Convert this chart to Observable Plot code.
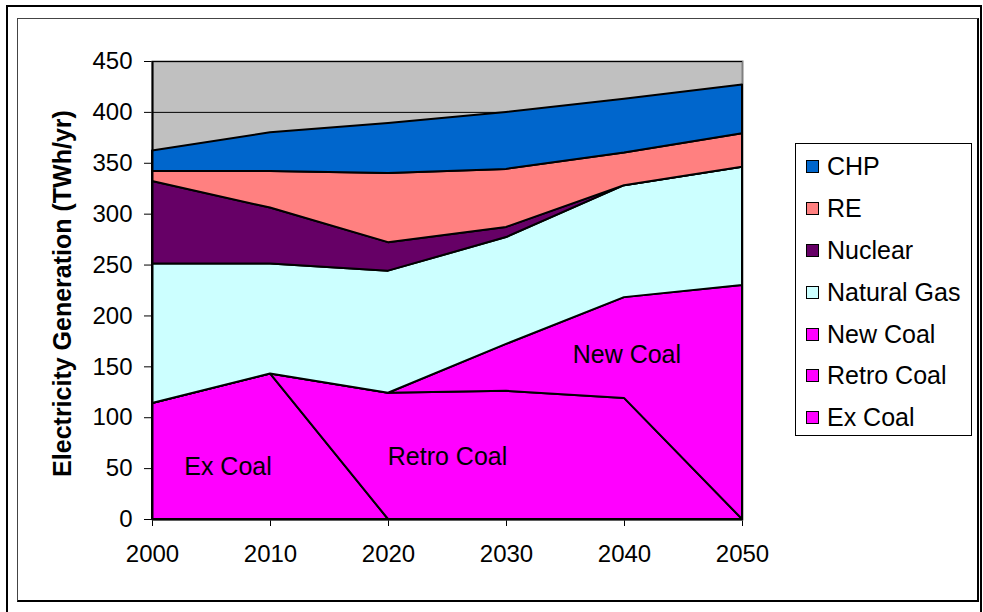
<!DOCTYPE html>
<html>
<head>
<meta charset="utf-8">
<script src="https://cdn.jsdelivr.net/npm/d3@7"></script>
<script src="https://cdn.jsdelivr.net/npm/@observablehq/plot@0.6"></script>
<style>
  html, body { margin: 0; padding: 0; background: #fff; }
  #wrap { position: relative; width: 983px; height: 612px; overflow: hidden; font-family: "Liberation Sans", Arial, sans-serif; }
  #outer { position: absolute; left: 6px; top: 5px; width: 976px; height: 620px; border: 2px solid #000; box-sizing: border-box; }
  #inner { position: absolute; left: 17px; top: 18px; width: 962px; height: 584px; border-left: 1px solid #444; border-top: 1px solid #444; border-right: 2px solid #000; border-bottom: 2px solid #000; box-sizing: border-box; }
  #chart { position: absolute; left: 0; top: 0; }
  #legend { position: absolute; left: 795px; top: 143px; width: 177px; height: 293px; border: 1px solid #000; box-sizing: border-box; background: #fff; }
  .item { position: absolute; left: 10px; height: 30px; display: flex; align-items: center; font-size: 25px; color: #000; white-space: nowrap; }
  .sw { width: 11px; height: 11px; border: 1.5px solid #000; margin-right: 8px; }
</style>
</head>
<body>
<div id="wrap">
  <div id="outer"></div>
  <div id="inner"></div>
  <div id="chart"></div>
  <div id="legend"></div>
</div>
<script>
// ---- data ----
const years = [2000, 2010, 2020, 2030, 2040, 2050];
const seriesNames = ["Ex Coal", "Retro Coal", "New Coal", "Natural Gas", "Nuclear", "RE", "CHP"];
const exCoal     = [114, 143, 0, 0, 0, 0];
const retroCoal  = [0, 0, 124, 126, 119, 0];
const newCoal    = [0, 0, 0, 46, 99, 230];
const naturalGas = [137, 108, 120, 105, 110, 116];
const nuclear    = [81, 55, 28, 10, 0, 0];
const re         = [10, 36, 68, 57, 32, 33];
const chp        = [20, 38, 49, 56, 53, 48];
const seriesColors = ["#FF00FF", "#FF00FF", "#FF00FF", "#CCFFFF", "#660066", "#FF8080", "#0066CC"];
const yTicks = [0, 50, 100, 150, 200, 250, 300, 350, 400, 450];
const legendOrder = ["CHP", "RE", "Nuclear", "Natural Gas", "New Coal", "Retro Coal", "Ex Coal"];
const areaLabels = ["Ex Coal", "Retro Coal", "New Coal"];
const areaLabelX = [2006.4, 2025, 2040.2];
const areaLabelY = [52, 61, 162];
const yTitle = "Electricity Generation (TWh/yr)";

// ---- build table ----
const valueArrays = [exCoal, retroCoal, newCoal, naturalGas, nuclear, re, chp];
const rows = [];
seriesNames.forEach((s, i) => {
  years.forEach((yr, j) => rows.push({series: s, year: yr, value: valueArrays[i][j]}));
});
const labelRows = areaLabels.map((t, i) => ({text: t, x: areaLabelX[i], y: areaLabelY[i]}));

const chart = Plot.plot({
  width: 983,
  height: 612,
  marginLeft: 152,
  marginRight: 241,
  marginTop: 61,
  marginBottom: 93,
  style: {fontFamily: "'Liberation Sans', Arial, sans-serif", fontSize: "24px", background: "transparent", color: "#000"},
  x: {domain: [2000, 2050], ticks: years, tickFormat: "d", tickSize: 7, tickPadding: 18, label: null},
  y: {domain: [0, 450], ticks: yTicks, tickSize: 8, tickPadding: 12, label: null},
  color: {domain: seriesNames, range: seriesColors, type: "ordinal"},
  marks: [
    Plot.frame({fill: "#C0C0C0", stroke: "#808080", strokeWidth: 2}),
    Plot.gridY(yTicks, {stroke: "#000", strokeOpacity: 1, strokeWidth: 1}),
    Plot.areaY(rows, Plot.stackY({x: "year", y: "value", fill: "series", z: "series", order: seriesNames, stroke: "#000", strokeWidth: 2, strokeLinejoin: "round"})),
    Plot.ruleX([2000], {stroke: "#000", strokeWidth: 2}),
    Plot.ruleY([0], {stroke: "#000", strokeWidth: 2}),
    Plot.text(labelRows, {x: "x", y: "y", text: "text", fontSize: 25, fill: "#000"}),
    Plot.text([yTitle], {frameAnchor: "left", textAnchor: "middle", rotate: -90, dx: -90, dy: 3, fontWeight: "bold", fontSize: 25, fill: "#000"})
  ]
});
document.getElementById("chart").appendChild(chart);

// ---- legend ----
const legend = document.getElementById("legend");
legendOrder.forEach((name, i) => {
  const idx = seriesNames.indexOf(name);
  const item = document.createElement("div");
  item.className = "item";
  item.style.top = (23.4 - 15 + i * 41.9 - 1) + "px";
  const sw = document.createElement("span");
  sw.className = "sw";
  sw.style.background = seriesColors[idx];
  const tx = document.createElement("span");
  tx.textContent = name;
  item.appendChild(sw);
  item.appendChild(tx);
  legend.appendChild(item);
});
</script>
</body>
</html>
